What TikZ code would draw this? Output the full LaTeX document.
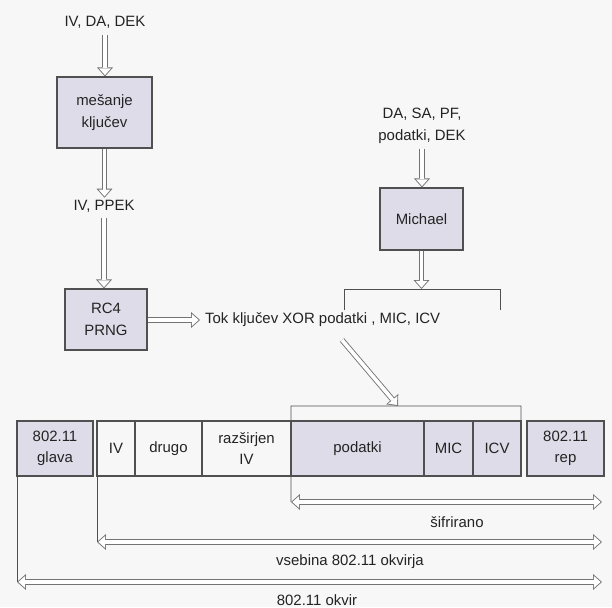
\documentclass[tikz,border=0pt]{standalone}
\usepackage{fontspec}
\setmainfont{Liberation Sans}
\usetikzlibrary{arrows.meta,positioning}

\definecolor{boxfill}{RGB}{222,220,232}
\definecolor{ink}{RGB}{35,35,35}
\definecolor{edge}{RGB}{80,80,80}
\definecolor{pipe}{RGB}{115,115,115}

\tikzset{
    vzun/.tip={Triangle[width=16pt,length=9pt,line width=0pt]},
    vnot/.tip={Triangle[width=12pt,length=6.74pt,line width=0pt]},
    votla/.style={draw=white,line width=3.7pt,shorten >=1.36pt,-vnot,
        preaction={draw=pipe,line width=5.5pt,shorten >=0pt,-vzun}},
    votla2/.style={draw=white,line width=3.7pt,shorten >=1.36pt,shorten <=1.36pt,vnot-vnot,
        preaction={draw=pipe,line width=5.5pt,shorten >=0pt,shorten <=0pt,vzun-vzun}}
}

\begin{document}
\begin{tikzpicture}[x=1bp,y=-1bp,font=\fontsize{15}{21.5}\selectfont,text=ink,
    blok/.style={draw=edge,fill=boxfill,line width=1.1pt,align=center,inner sep=0pt},
    polje/.style={draw=edge,line width=1.1pt,align=center,inner sep=0pt,outer sep=0pt,minimum height=55bp},
    siva/.style={fill=boxfill},
    napis/.style={align=center,inner sep=2pt},
    crta/.style={draw=edge,line width=0.9pt}]

    % background and bounding box
    \fill[black!3] (0,0) rectangle (612,607);

    % key mixing branch
    \node[napis] (kin) at (105,22) {IV, DA, DEK};
    \node[blok,minimum width=95bp,minimum height=71bp] (mesanje) at (104.5,112.5) {mešanje\\ključev};
    \node[napis] (ppek) at (104,206) {IV, PPEK};
    \node[blok,minimum width=82bp,minimum height=61bp] (rc4) at (106,319.5) {RC4\\PRNG};
    \node[napis,anchor=west] (tok) at (203,320) {Tok ključev XOR podatki , MIC, ICV};

    % Michael branch
    \node[napis] (micin) at (422,126) {DA, SA, PF,\\podatki, DEK};
    \node[blok,minimum width=83bp,minimum height=62bp] (michael) at (421.5,219) {Michael};

    \draw[votla,shorten <=5pt] (kin.south) -- (kin.south |- mesanje.north);
    \draw[votla] (mesanje.south) -- (mesanje.south |- ppek.north);
    \draw[votla,shorten <=4pt] (ppek.south) -- (ppek.south |- rc4.north);
    \draw[votla] (rc4.east |- tok.west) -- ([xshift=-3bp]tok.west);
    \draw[votla,shorten <=3pt] (micin.south) -- (micin.south |- michael.north);

    % bracket under Michael
    \coordinate (mL) at (344,310);
    \coordinate (mR) at (500,310);
    \coordinate (mTop) at (michael.south |- 0,289);
    \draw[crta] (mL) -- ++(0,-21) -| (mR);
    \draw[votla] (michael.south) -- (mTop);

    % 802.11 frame
    \node[polje,siva,minimum width=76bp,anchor=north west] (glava) at (17,421) {802.11\\glava};
    \node[polje,minimum width=38bp,anchor=north west] (iv) at (97,421) {IV};
    \node[polje,minimum width=67bp,right=0pt of iv] (drugo) {drugo};
    \node[polje,minimum width=89bp,right=0pt of drugo] (razsirjen) {razširjen\\IV};
    \node[polje,siva,minimum width=133bp,right=0pt of razsirjen] (podatki) {podatki};
    \node[polje,siva,minimum width=49bp,right=0pt of podatki] (mic) {MIC};
    \node[polje,siva,minimum width=48bp,right=0pt of mic] (icv) {ICV};
    \node[polje,siva,minimum width=77bp,right=6bp of icv] (rep) {802.11\\rep};

    % bracket over the encrypted part
    \coordinate (kL) at (291,406);
    \coordinate (kCilj) at (398,406);
    \coordinate (tokNoga) at (342,340);
    \draw[crta] (podatki.north west) -- (kL) -| (icv.north east);
    \draw[votla] (tokNoga) -- (kCilj);

    % spans
    \coordinate (sifL) at (291,502);
    \coordinate (sifR) at (602,502);
    \coordinate (vsL) at (97,542);
    \coordinate (vsR) at (602,542);
    \coordinate (okL) at (17,582);
    \coordinate (okR) at (602,582);
    \draw[crta] (podatki.south west) -- (sifL);
    \draw[crta] (iv.south west) -- (vsL);
    \draw[crta] (glava.south west) -- (okL);
    \draw[votla2] (sifL) -- (sifR);
    \draw[votla2] (vsL) -- (vsR);
    \draw[votla2] (okL) -- (okR);
    \node[napis] (sifrirano) at (457,522) {šifrirano};
    \node[napis] (vsebina) at (350,562) {vsebina 802.11 okvirja};
    \node[napis] (okvir) at (317,600) {802.11 okvir};

\end{tikzpicture}
\end{document}
